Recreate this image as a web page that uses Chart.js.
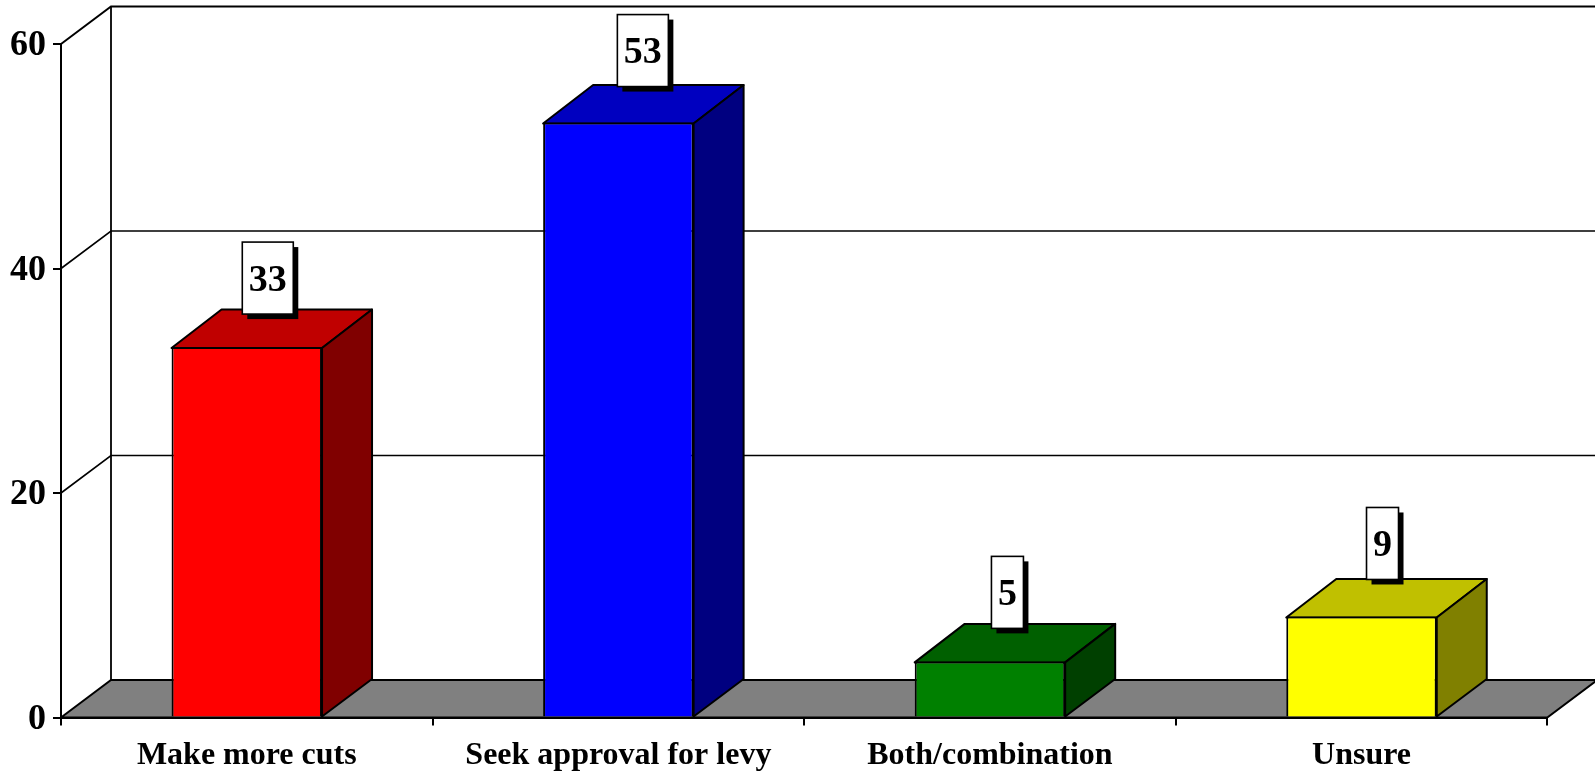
<!DOCTYPE html>
<html>
<head>
<meta charset="utf-8">
<title>Chart</title>
<script src="https://cdn.jsdelivr.net/npm/chart.js@4"></script>
<style>
html, body { margin: 0; padding: 0; background: #fff; overflow: hidden; }
canvas { display: block; }
</style>
</head>
<body>
<canvas id="myChart" width="1595" height="771"></canvas>
<script>
var categories = ["Make more cuts", "Seek approval for levy", "Both/combination", "Unsure"];
var values = [33, 53, 5, 9];
var yTicks = [0, 20, 40, 60];

var frontColors = ["#ff0000", "#0000ff", "#008000", "#ffff00"];
var topColors = ["#c00000", "#0000c0", "#006000", "#c0c000"];
var sideColors = ["#800000", "#000080", "#004000", "#808000"];
var labelLift = [33, 36, 33, 37]; // gap between bar front top and its label box
var labelShift = [21, 24.5, 17.5, 21]; // label box centre, right of bar centre

var depthX = 50;
var depthY = 37.5;
var topDepthY = 38.5;
var serif = "'Liberation Serif', serif";

function poly(ctx, pts, fill) {
	ctx.beginPath();
	ctx.moveTo(pts[0][0], pts[0][1]);
	for (var i = 1; i < pts.length; i++) ctx.lineTo(pts[i][0], pts[i][1]);
	ctx.closePath();
	if (fill) {
		ctx.fillStyle = fill;
		ctx.fill();
	}
	ctx.stroke();
}

// back wall, gridlines and floor go under the library's axes
var wallPlugin = {
	id: "wall",
	beforeDraw: function(chart) {
		var ctx = chart.ctx, a = chart.chartArea, y = chart.scales.y;
		var pageRight = chart.width + 10;
		ctx.save();
		ctx.strokeStyle = "#000";
		ctx.fillStyle = "#fff";
		ctx.fillRect(0, 0, chart.width, chart.height);

		yTicks.forEach(function(t) {
			if (t === 0) return;
			var py = y.getPixelForValue(t);
			ctx.lineWidth = t === 60 ? 2 : 1.6;
			ctx.beginPath();
			ctx.moveTo(a.left, py);
			ctx.lineTo(a.left + depthX, py - depthY);
			ctx.lineTo(pageRight, py - depthY);
			ctx.stroke();
		});

		ctx.lineWidth = 1.8;
		ctx.beginPath();
		ctx.moveTo(a.left + depthX, y.getPixelForValue(60) - depthY);
		ctx.lineTo(a.left + depthX, a.bottom - depthY);
		ctx.stroke();

		ctx.lineWidth = 2;
		poly(ctx, [
			[a.left, a.bottom],
			[a.left + depthX, a.bottom - depthY],
			[a.right + depthX, a.bottom - depthY],
			[a.right, a.bottom]
		], "#808080");
		ctx.restore();
	},
	beforeDatasetsDraw: function(chart) {
		var ctx = chart.ctx, meta = chart.getDatasetMeta(0);
		ctx.save();
		ctx.strokeStyle = "#000";
		ctx.lineWidth = 2;
		ctx.lineJoin = "round";
		meta.data.forEach(function(bar, i) {
			var l = bar.x - bar.width / 2, r = bar.x + bar.width / 2;
			var t = bar.y + 1, b = bar.base;
			poly(ctx, [[l, t], [l + depthX, t - topDepthY], [r + depthX, t - topDepthY], [r, t]], topColors[i]);
			poly(ctx, [[r, t], [r + depthX, t - topDepthY], [r + depthX, b - depthY], [r, b]], sideColors[i]);
		});
		ctx.restore();
	},
	afterDatasetsDraw: function(chart) {
		var ctx = chart.ctx, meta = chart.getDatasetMeta(0);
		ctx.save();
		ctx.font = "bold 38px " + serif;
		ctx.textAlign = "center";
		ctx.textBaseline = "middle";
		meta.data.forEach(function(bar, i) {
			var txt = String(values[i]);
			var w = ctx.measureText(txt).width + 13;
			var h = 72;
			var cx = bar.x + labelShift[i];
			var bottom = bar.y - labelLift[i];
			ctx.fillStyle = "#000";
			ctx.fillRect(cx - w / 2 + 5, bottom - h + 5, w, h);
			ctx.fillStyle = "#fff";
			ctx.strokeStyle = "#000";
			ctx.lineWidth = 1.6;
			ctx.fillRect(cx - w / 2, bottom - h, w, h);
			ctx.strokeRect(cx - w / 2, bottom - h, w, h);
			ctx.fillStyle = "#000";
			ctx.fillText(txt, cx, bottom - h / 2 + 3);
		});
		ctx.restore();
	}
};

var chart = new Chart(document.getElementById("myChart"), {
	type: "bar",
	data: {
		labels: categories,
		datasets: [{
			data: values,
			backgroundColor: frontColors,
			borderColor: "#000",
			borderWidth: 2,
			barPercentage: 0.405,
			categoryPercentage: 1
		}]
	},
	options: {
		responsive: false,
		animation: false,
		layout: { padding: { top: 44, right: 47.7, left: 0, bottom: 0 } },
		plugins: { legend: { display: false }, tooltip: { enabled: false } },
		scales: {
			x: {
				afterFit: function(scale) { scale.height = 53.5; },
				grid: { drawOnChartArea: false, color: "#000", lineWidth: 2, tickLength: 8 },
				border: { color: "#000", width: 2 },
				ticks: {
					color: "#000",
					padding: 11,
					maxRotation: 0,
					font: { family: serif, weight: "bold", size: 32 }
				}
			},
			y: {
				min: 0,
				max: 60,
				afterFit: function(scale) { scale.width = 61; },
				afterBuildTicks: function(scale) {
					scale.ticks = yTicks.map(function(v) { return { value: v }; });
				},
				grid: { drawOnChartArea: false, color: "#000", lineWidth: 2, tickLength: 8 },
				border: { color: "#000", width: 2 },
				ticks: {
					color: "#000",
					padding: 7,
					labelOffset: 2,
					font: { family: serif, weight: "bold", size: 36 }
				}
			}
		}
	},
	plugins: [wallPlugin]
});
</script>
</body>
</html>
